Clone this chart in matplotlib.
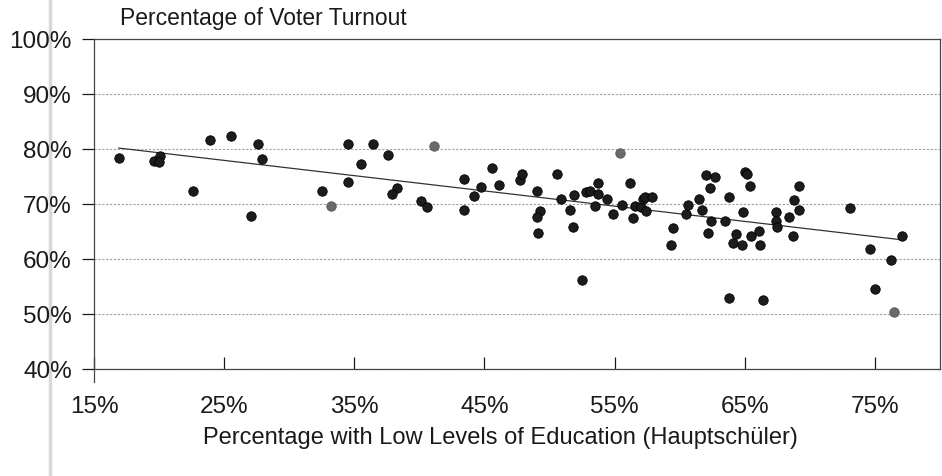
import numpy as np
import matplotlib
matplotlib.use('Agg')
import matplotlib.pyplot as plt
from matplotlib.lines import Line2D
from matplotlib.ticker import FuncFormatter

plt.rcParams['font.family'] = ['Liberation Sans', 'DejaVu Sans']

# share of people with low education (Hauptschüler), in %
low_edu = [16.9, 19.6, 20.1, 20.0, 22.6, 23.9, 25.5, 27.6, 27.9, 27.1,
           32.5, 34.5, 34.5, 35.5, 36.4, 37.6, 38.3, 37.9, 40.1, 40.6,
           43.4, 43.4, 44.2, 44.7, 45.6, 46.1, 47.7, 47.9, 49.0, 49.3,
           49.0, 49.1, 50.6, 50.9, 51.6, 51.9, 51.8, 52.5, 52.8, 53.1,
           53.7, 53.7, 53.5, 54.4, 54.9, 55.6, 56.2, 56.4, 56.6, 57.0,
           57.2, 57.4, 57.3, 57.9, 59.3, 59.5, 60.5, 60.6, 61.5, 61.7,
           62.0, 62.7, 62.3, 62.2, 62.4, 63.5, 63.8, 64.1, 64.3, 64.8,
           64.9, 65.0, 65.2, 65.4, 65.5, 66.1, 66.2, 63.8, 66.4, 67.4,
           67.4, 67.5, 68.4, 68.7, 68.8, 69.2, 69.2, 73.1, 74.6, 75.0,
           76.2, 77.1]
# voter turnout, in %
turnout = [78.3, 77.8, 78.8, 77.7, 72.4, 81.7, 82.3, 80.9, 78.1, 67.8,
           72.4, 80.9, 74.0, 77.3, 81.0, 78.9, 72.9, 71.8, 70.5, 69.4,
           68.9, 74.5, 71.5, 73.1, 76.5, 73.5, 74.4, 75.5, 72.3, 68.8,
           67.7, 64.7, 75.5, 70.9, 68.9, 71.6, 65.9, 56.2, 72.2, 72.4,
           73.8, 71.9, 69.6, 70.9, 68.1, 69.8, 73.8, 67.5, 69.6, 69.4,
           70.9, 68.8, 71.3, 71.3, 62.5, 65.6, 68.1, 69.9, 70.9, 69.0,
           75.3, 74.9, 72.9, 64.7, 67.0, 66.9, 71.2, 62.9, 64.5, 62.5,
           68.5, 75.8, 75.5, 73.2, 64.2, 65.1, 62.5, 52.9, 52.6, 68.5,
           67.0, 65.8, 67.6, 64.1, 70.8, 69.0, 73.3, 69.3, 61.9, 54.5,
           59.9, 64.2]
# the few dots printed in grey
grey_x = [33.2, 41.1, 55.4, 76.5]
grey_y = [69.6, 80.5, 79.2, 50.3]

fig = plt.figure(figsize=(9.42, 4.77), dpi=100)
ax = fig.add_axes([94/942, 1 - 370/477, 846/942, 330/477])

ax.set_xlim(15, 80)
ax.set_ylim(40, 100)
ax.set_xticks([15, 25, 35, 45, 55, 65, 75])
ax.set_yticks([40, 50, 60, 70, 80, 90, 100])
pct = FuncFormatter(lambda v, p: f'{v:.0f}%')
ax.xaxis.set_major_formatter(pct)
ax.yaxis.set_major_formatter(pct)

ax.yaxis.grid(True, color='#a0a0a0', linestyle=(0, (2, 1.5)), linewidth=0.8)
ax.set_axisbelow(True)

ax.tick_params(axis='x', direction='in', length=9, width=0.9, pad=19,
               labelsize=17.5, colors='#1a1a1a')
ax.tick_params(axis='y', direction='out', length=9, width=0.9, pad=7,
               labelsize=17.5, colors='#1a1a1a')
for s in ax.spines.values():
    s.set_color('#444444')
    s.set_linewidth(0.9)
# left axis runs a little below the x axis, as in the print
ax.spines['left'].set_bounds(37.7, 100)

ax.scatter(low_edu, turnout, s=46, color='#1c1c1c', edgecolors='#000000',
           linewidths=0.6, zorder=3)
ax.scatter(grey_x, grey_y, s=46, color='#6a6a6a', edgecolors='#555555',
           linewidths=0.6, zorder=3)

# fitted trend line
all_x = np.array(low_edu + grey_x)
all_y = np.array(turnout + grey_y)
b, a = np.polyfit(all_x, all_y, 1)
xs = np.array([all_x.min(), all_x.max()])
ax.plot(xs, a + b * xs, color='#333333', linewidth=0.9, zorder=2)

fig.text(120/942, 1 - 18/477, 'Percentage of Voter Turnout', fontsize=16.5,
         va='center', ha='left', color='#1a1a1a')
fig.text(500/942, 1 - 438/477,
         'Percentage with Low Levels of Education (Hauptschüler)',
         fontsize=17, va='center', ha='center', color='#1a1a1a')

# faint fold line from the scan
fig.add_artist(Line2D([50/942, 50/942], [0, 1], transform=fig.transFigure,
                      color='#d8d8d8', linewidth=2.5, zorder=0))

fig.savefig('out.png', dpi=100)
